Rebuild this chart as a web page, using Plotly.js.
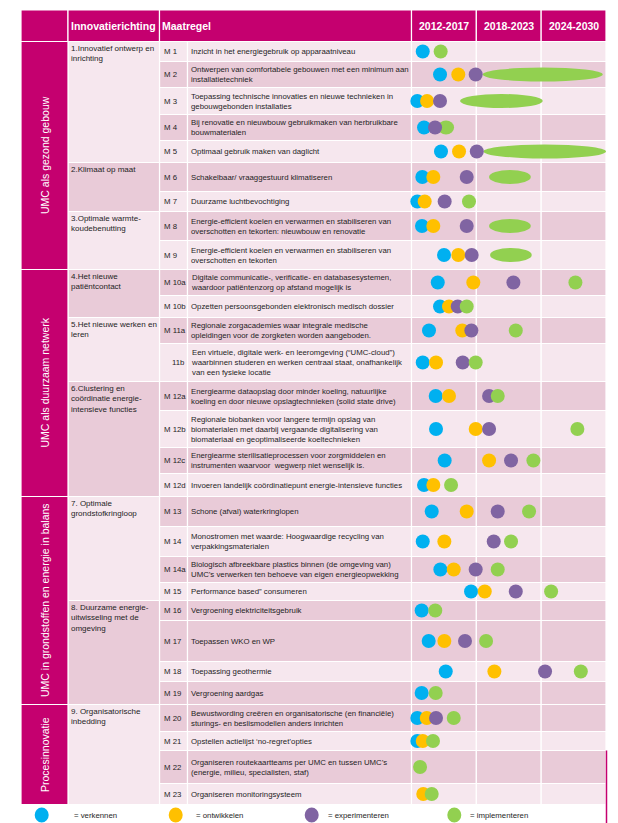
<!DOCTYPE html>
<html><head><meta charset="utf-8">
<script src="https://cdn.plot.ly/plotly-3.0.1.min.js"></script>
<style>html,body{margin:0;padding:0;background:#fff}</style>
</head><body><div id="chart" style="width:618px;height:823px"></div>
<script>
// ---------------- DATA ----------------
const periods = ['2012-2017', '2018-2023', '2024-2030'];
const periodBounds = [2012, 2018, 2024, 2030];
const themes = ['UMC als gezond gebouw', 'UMC als duurzaam netwerk',
  'UMC in grondstoffen en energie in balans', 'Procesinnovatie'];
const directions = [
  '1.Innovatief ontwerp en<br>inrichting',
  '2.Klimaat op maat',
  '3.Optimale warmte-<br>koudebenutting',
  '4.Het nieuwe<br>patiëntcontact',
  '5.Het nieuwe werken en<br>leren',
  '6.Clustering en<br>coördinatie energie-<br>intensieve functies',
  '7. Optimale<br>grondstofkringloop',
  '8. Duurzame energie-<br>uitwisseling met de<br>omgeving',
  '9. Organisatorische<br>inbedding'];
const themeOfDirection = [0, 0, 0, 1, 1, 1, 2, 2, 3];
const codes = ['M 1','M 2','M 3','M 4','M 5','M 6','M 7','M 8','M 9','M 10a','M 10b','M 11a','11b',
  'M 12a','M 12b','M 12c','M 12d','M 13','M 14','M 14a','M 15','M 16','M 17','M 18','M 19',
  'M 20','M 21','M 22','M 23'];
const directionOf = [0,0,0,0,0,1,1,2,2,3,3,4,4,5,5,5,5,6,6,6,6,7,7,7,7,8,8,8,8];
const measures = [
  'Inzicht in het energiegebruik op apparaatniveau',
  'Ontwerpen van comfortabele gebouwen met een minimum aan<br>installatietechniek',
  'Toepassing technische innovaties en nieuwe technieken in<br>gebouwgebonden installaties',
  'Bij renovatie en nieuwbouw gebruikmaken van herbruikbare<br>bouwmaterialen',
  'Optimaal gebruik maken van daglicht',
  'Schakelbaar/ vraaggestuurd klimatiseren',
  'Duurzame luchtbevochtiging',
  'Energie-efficient koelen en verwarmen en stabiliseren van<br>overschotten en tekorten: nieuwbouw en renovatie',
  'Energie-efficient koelen en verwarmen en stabiliseren van<br>overschotten en tekorten',
  'Digitale communicatie-, verificatie- en databasesystemen,<br>waardoor patiëntenzorg op afstand mogelijk is',
  'Opzetten persoonsgebonden elektronisch medisch dossier',
  'Regionale zorgacademies waar integrale medische<br>opleidingen voor de zorgketen worden aangeboden.',
  'Een virtuele, digitale werk- en leeromgeving (“UMC-cloud”)<br>waarbinnen studeren en werken centraal staat, onafhankelijk<br>van een fysieke locatie',
  'Energiearme dataopslag door minder koeling, natuurlijke<br>koeling en door nieuwe opslagtechnieken (solid state drive)',
  'Regionale biobanken voor langere termijn opslag van<br>biomaterialen met daarbij vergaande digitalisering van<br>biomateriaal en geoptimaliseerde koeltechnieken',
  'Energiearme sterilisatieprocessen voor zorgmiddelen en<br>instrumenten waarvoor  wegwerp niet wenselijk is.',
  'Invoeren landelijk coördinatiepunt energie-intensieve functies',
  'Schone (afval) waterkringlopen',
  'Monostromen met waarde: Hoogwaardige recycling van<br>verpakkingsmaterialen',
  'Biologisch afbreekbare plastics binnen (de omgeving van)<br>UMC’s verwerken ten behoeve van eigen energieopwekking',
  'Performance based” consumeren',
  'Vergroening elektriciteitsgebruik',
  'Toepassen WKO en WP',
  'Toepassing geothermie',
  'Vergroening aardgas',
  'Bewustwording creëren en organisatorische (en financiële)<br>sturings- en beslismodellen anders inrichten',
  'Opstellen actielijst ‘no-regret’opties',
  'Organiseren routekaartteams per UMC en tussen UMC’s<br>(energie, milieu, specialisten, staf)',
  'Organiseren monitoringsysteem'];
const phaseNames = ['= verkennen', '= ontwikkelen', '= experimenteren', '= implementeren'];
// timing (year position) of each phase per measure; null = not present
const verkennen =      [2013.04,2014.64,2012.54,2013.16,2014.73,2013.00,2012.54,2012.97,2015.01,2014.43,2014.64,2013.62,2013.04,
  2014.24,2014.27,2015.07,2013.16,2013.87,2013.04,2014.67,2017.51,2012.94,2013.59,2015.17,2012.94,2012.54,2012.54,null,null];
const ontwikkelen =    [null,2016.33,2013.44,null,2016.40,2014.02,2013.22,2014.02,2016.33,2017.72,2015.47,2016.70,2014.27,
  2015.47,2017.94,2019.18,2014.02,2017.11,2015.04,2015.91,2018.78,null,2015.04,2019.67,null,2013.41,2013.04,null,2013.09];
const experimenteren = [null,2017.94,2014.64,2014.18,2018.04,2017.11,2015.07,2017.11,2017.57,2021.43,2016.28,2017.54,2016.74,
  2019.18,2019.18,2021.21,null,2019.98,2019.61,2017.94,2021.65,null,2016.95,2024.36,null,2014.27,null,null,null];
const implementeren =  [2014.70,2018.59,2016.49,2014.45,2018.65,2019.18,2017.32,2019.18,2019.27,2027.17,2017.11,2021.65,2017.94,
  2019.98,2027.35,2023.28,2015.66,2022.88,2021.21,2019.98,2024.92,2014.20,2018.90,2027.67,2014.24,2015.91,2013.99,2012.79,2013.87];
// end year where implementation is an ongoing span (drawn as a long ellipse)
const implementerenEnd=[null,2029.70,2024.15,2015.94,2030.00,2023.04,null,2023.04,2023.13,null,null,null,null,
  null,null,null,null,null,null,null,null,null,null,null,null,null,null,null,null];

// ---------------- LAYOUT / STYLE ----------------
const W = 618, H = 823;
const MAG = '#c5006f', DARK = '#e9cbd8', LIGHT = '#f6e7ee';
const phaseColors = ['#00b0f0', '#ffc000', '#8064a2', '#92d050'];
const FONT = 'Liberation Sans, Arial, sans-serif';
const BODY = 7.8;
const colTheme = [21, 68], colDir = [68, 159.5], colCode = [159.5, 187.5], colText = [187.5, 411.5];
const colYears = [411.5, 606];
const headTop = 10, headBot = 41.5, bodyTop = 41.5;
const rowHeights = [20,26,27,26,22,29,20,29,29,26,22,26,38,29,37,26,23,30,30,26,18,20,41,20,23,27,19,33,21];
const rowDark = [0,1,0,1,0,1,0,1,0,1,0,1,0,1,0,1,0,1,0,1,0,1,1,0,1,1,0,1,0];
const dirDark = [0,1,0,1,0,1,0,1,0];
const legendY = 815, legendDotX = [41.7, 175.7, 311.7, 454.3], legendTextX = [73, 195, 327, 469];

const rowTop = []; { let y = bodyTop; rowHeights.forEach(h => { rowTop.push(y); y += h; }); }
const rowBot = rowTop.map((t, i) => t + rowHeights[i]);
const rowMid = rowTop.map((t, i) => (t + rowBot[i]) / 2);
const P = px => px / W;

const shapes = [], annotations = [];
function cell(x0, x1, y0, y1, color) {
  shapes.push({type: 'rect', xref: 'paper', yref: 'y', x0: P(x0), x1: P(x1), y0: y0, y1: y1,
    fillcolor: color, line: {color: '#ffffff', width: 1.2}, layer: 'below'});
}
function txt(text, x, y, opts) {
  annotations.push(Object.assign({text: text, xref: 'paper', yref: 'y', x: P(x), y: y, showarrow: false,
    xanchor: 'left', yanchor: 'middle', align: 'left', borderpad: 0,
    font: {family: FONT, size: BODY, color: '#1e1e1e'}}, opts || {}));
}

// header
cell(colTheme[0], colDir[0], headTop, headBot, MAG);
cell(colDir[0], colDir[1], headTop, headBot, MAG);
cell(colCode[0], colText[1], headTop, headBot, MAG);
const hdrFont = {family: FONT, size: 10.5, color: '#ffffff'};
txt('<b>Innovatierichting</b>', 70, (headTop + headBot) / 2, {font: hdrFont});
txt('<b>Maatregel</b>', 161, (headTop + headBot) / 2, {font: hdrFont});
periods.forEach((p, k) => {
  const x0 = colYears[0] + (colYears[1] - colYears[0]) * (periodBounds[k] - 2012) / 18;
  const x1 = colYears[0] + (colYears[1] - colYears[0]) * (periodBounds[k + 1] - 2012) / 18;
  cell(x0, x1, headTop, headBot, MAG);
  txt('<b>' + p + '</b>', (x0 + x1) / 2, (headTop + headBot) / 2, {xanchor: 'center', font: hdrFont});
});

// rows
codes.forEach((c, i) => {
  const col = rowDark[i] ? DARK : LIGHT;
  cell(colCode[0], colCode[1], rowTop[i], rowBot[i], col);
  cell(colText[0], colText[1], rowTop[i], rowBot[i], col);
  for (let k = 0; k < 3; k++) {
    const x0 = colYears[0] + (colYears[1] - colYears[0]) * (periodBounds[k] - 2012) / 18;
    const x1 = colYears[0] + (colYears[1] - colYears[0]) * (periodBounds[k + 1] - 2012) / 18;
    cell(x0, x1, rowTop[i], rowBot[i], col);
  }
  if (c.startsWith('M')) txt(c, 162.5, rowMid[i]);
  else txt(c, 186, rowMid[i], {xanchor: 'right'});
  txt(measures[i], 189.5, rowMid[i]);
});

// direction groups
directions.forEach((d, g) => {
  const idx = directionOf.map((v, i) => v === g ? i : -1).filter(i => i >= 0);
  const t = rowTop[idx[0]], b = rowBot[idx[idx.length - 1]];
  cell(colDir[0], colDir[1], t, b, dirDark[g] ? DARK : LIGHT);
  txt(d, 70, t + 1.5, {yanchor: 'top', font: {family: FONT, size: 8, color: '#1e1e1e'}});
});

// theme groups
themes.forEach((th, k) => {
  const idx = directionOf.map((v, i) => themeOfDirection[v] === k ? i : -1).filter(i => i >= 0);
  const t = rowTop[idx[0]], b = rowBot[idx[idx.length - 1]];
  cell(colTheme[0], colTheme[1], t, b, MAG);
  txt(th, 44.5, (t + b) / 2, {xanchor: 'center', textangle: -90,
    font: {family: FONT, size: 10.5, color: '#ffffff'}});
});

// right edge line on bottom rows
shapes.push({type: 'line', xref: 'paper', yref: 'y', x0: P(606.5), x1: P(606.5), y0: rowTop[27], y1: H,
  line: {color: MAG, width: 1.5}});

// ongoing implementation spans
implementerenEnd.forEach((e, i) => {
  if (e === null) return;
  shapes.push({type: 'circle', xref: 'x', yref: 'y', x0: implementeren[i], x1: e,
    y0: rowMid[i] - 7, y1: rowMid[i] + 7, fillcolor: phaseColors[3], line: {width: 0}, layer: 'below'});
});

// legend
phaseNames.forEach((n, k) => {
  shapes.push({type: 'circle', xref: 'paper', yref: 'y', x0: P(legendDotX[k] - 7), x1: P(legendDotX[k] + 7),
    y0: legendY - 7.5, y1: legendY + 7.5, fillcolor: phaseColors[k], line: {width: 0}});
  txt(n, legendTextX[k], legendY);
});

// traces
const series = [verkennen, ontwikkelen, experimenteren, implementeren];
const traces = series.map((s, k) => {
  const xs = [], ys = [];
  s.forEach((v, i) => {
    if (v === null) return;
    if (k === 3 && implementerenEnd[i] !== null) return;
    xs.push(v); ys.push(rowMid[i]);
  });
  return {type: 'scatter', mode: 'markers', x: xs, y: ys, name: phaseNames[k], showlegend: false,
    hoverinfo: 'skip', cliponaxis: false,
    marker: {size: 14, color: phaseColors[k], line: {width: 0}}};
});

const layout = {
  width: W, height: H, margin: {l: 0, r: 0, t: 0, b: 0},
  paper_bgcolor: '#ffffff', plot_bgcolor: 'rgba(0,0,0,0)',
  xaxis: {domain: [P(colYears[0]), P(colYears[1])], range: [2012, 2030], visible: false, fixedrange: true},
  yaxis: {domain: [0, 1], range: [H, 0], visible: false, fixedrange: true},
  shapes: shapes, annotations: annotations, showlegend: false
};
Plotly.newPlot('chart', traces, layout, {staticPlot: true});
</script></body></html>
